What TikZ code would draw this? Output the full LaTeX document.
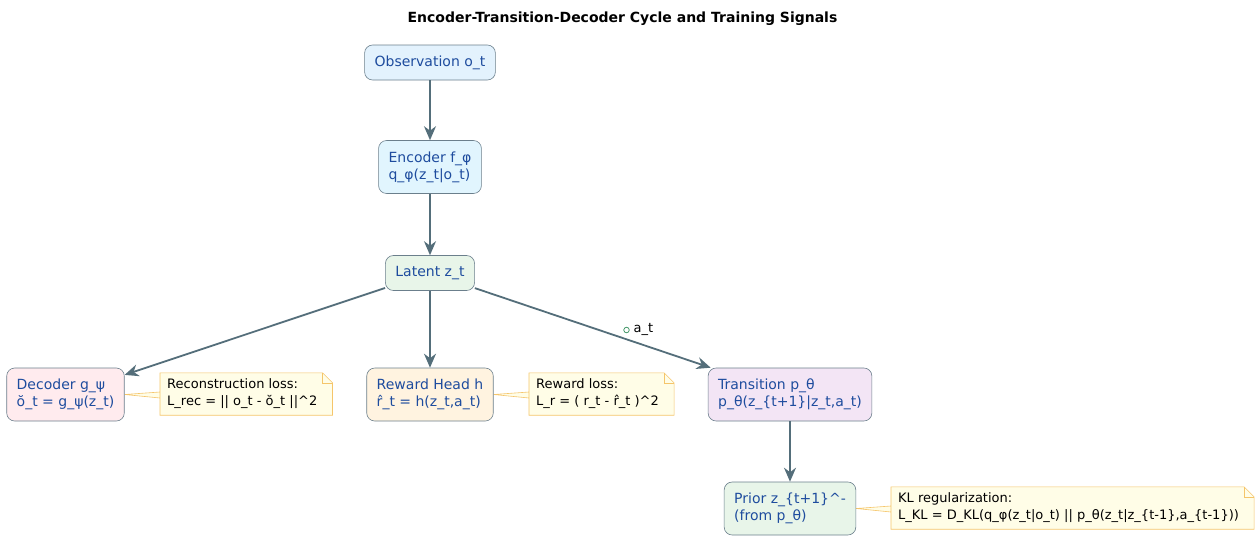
\documentclass[tikz,border=0pt]{standalone}
\usepackage{fontspec}
\setmainfont{DejaVu Sans}
\usetikzlibrary{arrows.meta,backgrounds,calc}
\definecolor{txtblue}{HTML}{1E4C9E}
\definecolor{edgec}{HTML}{546E7A}
\definecolor{bordc}{HTML}{6B7F8C}
\definecolor{notefill}{HTML}{FFFDE7}
\definecolor{notebord}{HTML}{F5C56A}
\definecolor{lblgreen}{HTML}{2E8B57}
\definecolor{fobs}{HTML}{E3F2FD}
\definecolor{fenc}{HTML}{E1F5FE}
\definecolor{flat}{HTML}{E8F5E9}
\definecolor{fdec}{HTML}{FFEBEE}
\definecolor{frew}{HTML}{FFF3E0}
\definecolor{ftra}{HTML}{F3E5F5}
\tikzset{
  box/.style={draw=bordc, line width=0.6pt, rounded corners=8pt, align=left,
    text=txtblue, font=\fontsize{14}{17}\selectfont, inner xsep=10pt, inner ysep=0pt},
  oneline/.style={box, minimum height=35pt},
  twoline/.style={box, minimum height=53pt},
  notetext/.style={align=left, font=\fontsize{13}{17}\selectfont, inner xsep=7pt,
    inner ysep=0pt, minimum height=42pt, anchor=west},
  noteshape/.style={fill=notefill, draw=notebord, line width=0.6pt, line join=miter},
  flow/.style={draw=edgec, line width=1.8pt, -{Stealth[length=14pt,width=12pt,inset=4.5pt]}},
}
\begin{document}
\begin{tikzpicture}[x=1pt,y=-1pt]
\useasboundingbox (0,0) rectangle (1258,539);
\node[font=\bfseries\fontsize{14}{17}\selectfont] (title) at (622.5,19) {Encoder-Transition-Decoder Cycle and Training Signals};

\node[oneline, fill=fobs] (obs) at (430,62.5) {Observation o\_t};
\node[twoline, fill=fenc] (enc) at (430,167) {Encoder f\_φ\\q\_φ(z\_t|o\_t)};
\node[oneline, fill=flat] (lat) at (430,273) {Latent z\_t};
\node[twoline, fill=fdec] (dec) at (65.5,394.5) {Decoder g\_ψ\\ŏ\_t = g\_ψ(z\_t)};
\node[twoline, fill=frew] (rew) at (430,394.5) {Reward Head h\\r̂\_t = h(z\_t,a\_t)};
\node[twoline, fill=ftra] (tra) at (790,394.5) {Transition p\_θ\\p\_θ(z\_\{t+1\}|z\_t,a\_t)};
\node[twoline, fill=flat] (pri) at (790,508.5) {Prior z\_\{t+1\}\textasciicircum-\\(from p\_θ)};

\node[notetext] (n1) at (160,394) {Reconstruction loss:\\L\_rec = || o\_t - ŏ\_t ||\textasciicircum 2};
\node[notetext] (n2) at (529,394) {Reward loss:\\L\_r = ( r\_t - r̂\_t )\textasciicircum 2};
\node[notetext] (n3) at (891,508) {KL regularization:\\L\_KL = D\_KL(q\_φ(z\_t|o\_t) || p\_θ(z\_t|z\_\{t-1\},a\_\{t-1\}))};

\begin{scope}[on background layer]
\foreach \n/\src in {n1/dec,n2/rew,n3/pri}{
  \draw[noteshape] (\n.north west) -- ([xshift=-2pt]\n.north east) -- ([xshift=8pt,yshift=-10pt]\n.north east)
    -- ([xshift=8pt]\n.south east) -- (\n.south west) -- ([yshift=2pt]\n.west) -- (\src.east)
    -- ([yshift=-4pt]\n.west) -- cycle;
  \draw[noteshape, fill=none] ([xshift=-2pt]\n.north east) -- ([xshift=-2pt,yshift=-10pt]\n.north east) -- ([xshift=8pt,yshift=-10pt]\n.north east);
}
\end{scope}

\draw[flow] (obs) -- (enc);
\draw[flow] (enc) -- (lat);
\draw[flow] (lat) -- (dec);
\draw[flow] (lat) -- (rew);
\draw[flow] (lat) -- (tra);
\draw[flow] (tra) -- (pri);

\node[draw=lblgreen, circle, line width=0.7pt, inner sep=0pt, minimum size=5.5pt] (lblc) at (626.5,330) {};
\node[font=\fontsize{13}{15}\selectfont, anchor=west, inner sep=0pt] (lbl) at (633.5,329) {a\_t};
\end{tikzpicture}
\end{document}
